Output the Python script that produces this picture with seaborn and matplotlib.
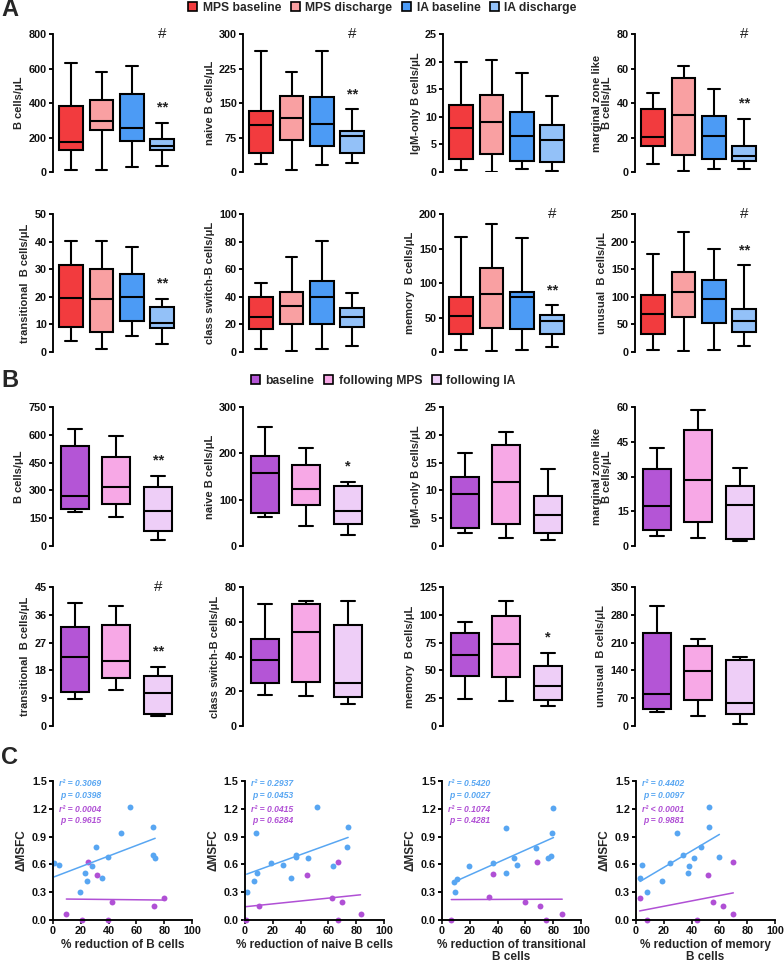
import numpy as np
import pandas as pd
import matplotlib
matplotlib.use("Agg")
import matplotlib.pyplot as plt
import seaborn as sns
from matplotlib.patches import Patch

sns.set_theme(style="ticks")
plt.rcParams["font.family"] = ["Liberation Sans", "DejaVu Sans"]
plt.rcParams["font.weight"] = "bold"
plt.rcParams["axes.labelweight"] = "bold"

# ---------------- DATA ----------------
# Panel A: groups and five-number summaries [min, q1, median, q3, max]
A_groups = ["MPS baseline", "MPS discharge", "IA baseline", "IA discharge"]
A_colors = ["#F23B3E", "#F9A0A2", "#4C9BF5", "#93C1F8"]

A_bcells = [[14, 125, 175, 385, 630], [12, 245, 298, 420, 580], [28, 182, 255, 450, 617], [37, 125, 148, 192, 283]]
A_naive = [[17, 41, 102, 132, 264], [5, 69, 118, 166, 218], [16, 57, 105, 164, 262], [20, 42, 79, 89, 136]]
A_igm = [[0.4, 2.3, 8.05, 12.2, 20.0], [0.06, 3.2, 9.0, 13.9, 20.3], [0.6, 2.05, 6.5, 10.8, 18.0], [0.25, 1.9, 5.8, 8.5, 13.8]]
A_mz = [[4.9, 15, 20.4, 36.3, 46], [0.4, 9.7, 33, 54.4, 61.3], [1.6, 7.6, 21.1, 32.2, 48.3], [1.6, 6.6, 9.5, 15, 31]]
A_trans = [[4.0, 8.9, 19.5, 31.7, 40.3], [1.2, 7.2, 19.1, 29.9, 40.1], [5.8, 11.2, 20.1, 28.3, 38.1], [2.9, 8.6, 10.5, 16.3, 19.3]]
A_switch = [[2, 17, 25.2, 39.5, 50.1], [0.7, 20, 33, 43.6, 69.2], [2, 20.3, 40, 51.6, 80.6], [4.4, 17.9, 25.7, 32.2, 42.6]]
A_memory = [[3, 26.5, 52, 79, 166], [1, 35, 84, 122, 185], [3, 34, 79, 87, 165], [7.2, 25.6, 45.4, 53.6, 67.6]]
A_unusual = [[3, 33, 68, 103, 178], [1, 63.5, 109.5, 145, 218], [3, 52.6, 96, 131, 187], [11.5, 35.7, 56, 78, 157]]

A_labels = ["B cells/\u03bcL", "naive B cells/\u03bcL", "IgM-only B cells/\u03bcL", "marginal zone like\nB cells/\u03bcL",
            "transitional  B cells/\u03bcL", "class switch-B cells/\u03bcL", "memory  B cells/\u03bcL", "unusual  B cells/\u03bcL"]
A_top = [800, 300, 25, 80, 50, 100, 200, 250]
A_step = [200, 75, 5, 20, 10, 20, 50, 50]
A_hash = [True, True, False, True, False, False, True, True]
A_star = ["**", "**", "", "**", "**", "", "**", "**"]

# Panel B
B_groups = ["baseline", "following MPS", "following IA"]
B_colors = ["#B455D6", "#F7A8E6", "#EECEF7"]

B_bcells = [[185, 198, 268, 539, 629], [158, 225, 319, 481, 596], [31, 80, 189, 319, 379]]
B_naive = [[63, 71.5, 158, 195, 256], [42.6, 88, 124, 175.5, 211.6], [24.5, 47.7, 75, 128.5, 139]]
B_igm = [[2.3, 3.25, 9.3, 12.5, 16.7], [1.4, 3.9, 11.6, 18.1, 20.5], [1.1, 2.4, 5.5, 9.0, 13.8]]
B_mz = [[4.3, 6.8, 17.4, 33.2, 42.3], [3.3, 10.5, 28.4, 50.1, 58.6], [2.2, 2.9, 17.7, 25.8, 33.6]]
B_trans = [[8.6, 10.9, 22.3, 32.2, 39.9], [11.8, 15.7, 20.9, 32.6, 38.7], [3.2, 3.8, 10.6, 16.3, 19.2]]
B_switch = [[17.6, 24.7, 37.7, 50.3, 70.4], [17.2, 25.6, 54, 70, 72.1], [12.8, 16.6, 24.9, 58.3, 71.7]]
B_memory = [[24.5, 45.2, 63.7, 83.7, 93.9], [22.7, 44.3, 73.3, 99.3, 112], [18.2, 23.3, 35.9, 53.8, 66]]
B_unusual = [[35, 42, 81, 233, 303], [26, 66, 137.5, 202.6, 218.5], [5.2, 31.4, 58, 167, 173]]

B_labels = A_labels
B_top = [750, 300, 25, 60, 45, 80, 125, 350]
B_step = [150, 100, 5, 15, 9, 20, 25, 70]
B_hash = [False, False, False, False, True, False, False, False]
B_star = ["**", "*", "", "", "**", "", "*", ""]

# Panel C: % reduction vs delta MSFC
C_blue = "#58A6F2"
C_purple = "#B050D5"
c1_bx = [0.7, 4.3, 19.3, 22.9, 24.6, 27.7, 30.6, 35.2, 39.8, 49.2, 55.4, 71.6, 72.3, 73.5]
c1_by = [0.62, 0.59, 0.30, 0.51, 0.42, 0.58, 0.79, 0.45, 0.68, 0.94, 1.22, 1.00, 0.70, 0.67]
c1_px = [9.6, 21.0, 25.5, 31.3, 39.8, 42.4, 72.5, 79.5]
c1_py = [0.065, 0.0, 0.626, 0.49, 0.0, 0.194, 0.155, 0.241]

c2_bx = [1.2, 6.7, 8.2, 8.9, 19.0, 27.2, 33.0, 36.4, 36.9, 45.0, 51.8, 63.4, 73.3, 74.2]
c2_by = [0.30, 0.42, 0.94, 0.51, 0.62, 0.59, 0.45, 0.68, 0.70, 0.67, 1.22, 0.58, 0.79, 1.00]
c2_px = [0.5, 10.1, 44.3, 62.4, 67.0, 66.7, 70.1, 83.1]
c2_py = [0.0, 0.155, 0.49, 0.241, 0.626, 0.0, 0.194, 0.065]

c3_bx = [8.9, 11.1, 9.4, 19.5, 36.9, 45.8, 46.3, 51.8, 54.0, 67.5, 75.9, 78.6, 79.0, 80.2]
c3_by = [0.41, 0.44, 0.30, 0.58, 0.62, 0.99, 0.51, 0.67, 0.59, 0.78, 0.665, 0.69, 0.935, 1.21]
c3_px = [6.7, 33.5, 36.9, 59.8, 68.2, 70.4, 74.5, 86.5]
c3_py = [0.0, 0.245, 0.496, 0.194, 0.626, 0.155, 0.0, 0.068]

c4_bx = [2.9, 4.6, 8.2, 18.9, 24.5, 29.7, 33.6, 37.2, 38.4, 41.5, 46.5, 52.3, 52.8, 60.0]
c4_by = [0.45, 0.59, 0.30, 0.42, 0.62, 0.94, 0.70, 0.51, 0.58, 0.67, 0.79, 1.22, 1.00, 0.68]
c4_px = [2.6, 7.7, 43.6, 51.6, 55.2, 62.4, 69.5, 70.0]
c4_py = [0.241, 0.0, 0.0, 0.49, 0.194, 0.155, 0.626, 0.065]

C_xlabels = ["% reduction of B cells", "% reduction of naive B cells",
             "% reduction of transitional\nB cells", "% reduction of memory\nB cells"]
C_stats_blue = [("r\u00b2 = 0.3069", "p = 0.0398"), ("r\u00b2 = 0.2937", "p = 0.0453"),
                ("r\u00b2 = 0.5420", "p = 0.0027"), ("r\u00b2 = 0.4402", "p = 0.0097")]
C_stats_purple = [("r\u00b2 = 0.0004", "p = 0.9615"), ("r\u00b2 = 0.0415", "p = 0.6284"),
                  ("r\u00b2 = 0.1074", "p = 0.4281"), ("r\u00b2 < 0.0001", "p = 0.9881")]

# ---------------- FIGURE ----------------
W, H = 784, 964
fig = plt.figure(figsize=(W / 100, H / 100), dpi=100)


def axes_px(left, top, width, height):
    return fig.add_axes([left / W, 1 - (top + height) / H, width / W, height / H])


col_left = [53, 243, 443, 635]
box_w = 126
LW = 1.5
TICK_FS = 7.8


def style_y(ax, top, step, fmt="{:g}"):
    ax.set_ylim(0, top)
    ticks = np.arange(0, top + step * 0.01, step)
    ax.set_yticks(ticks)
    ax.set_yticklabels([fmt.format(t) for t in ticks], fontsize=TICK_FS, fontweight="bold")
    ax.tick_params(axis="y", direction="out", length=3, width=LW * 0.9, pad=1.5, color="black", labelcolor="#111111")
    ax.spines["left"].set_linewidth(LW * 0.9)
    ax.spines["left"].set_color("black")


def box_panel(ax, summaries, groups, colors, width, top, step, label, xlim, hash_, star):
    df = pd.DataFrame({"group": np.repeat(groups, 5), "value": np.concatenate(summaries)})
    sns.boxplot(data=df, x="group", y="value", hue="group", order=groups, hue_order=groups,
                palette=colors, saturation=1, whis=(0, 100), width=width, linewidth=LW,
                linecolor="black", fliersize=0, legend=False, ax=ax)
    for sp in ["top", "right", "bottom"]:
        ax.spines[sp].set_visible(False)
    ax.set_xlim(*xlim)
    ax.set_xticks([])
    ax.set_xlabel("")
    style_y(ax, top, step)
    ax.set_ylabel(label, fontsize=8, fontweight="bold", labelpad=3, linespacing=1.0)
    last = len(groups) - 1
    if hash_:
        ax.text(last, top, "#", ha="center", va="center", fontsize=11, fontweight="normal", color="#222222")
    if star:
        ax.annotate(star, xy=(last, summaries[last][4]), xytext=(0, 6), textcoords="offset points",
                    ha="center", va="bottom", fontsize=10.5, fontweight="bold", color="#222222")


A_data = [A_bcells, A_naive, A_igm, A_mz, A_trans, A_switch, A_memory, A_unusual]
A_rows_top = [34, 214]
for i, summ in enumerate(A_data):
    r, c = divmod(i, 4)
    ax = axes_px(col_left[c], A_rows_top[r], box_w, 138)
    box_panel(ax, summ, A_groups, A_colors, 0.78, A_top[i], A_step[i], A_labels[i],
              (-0.6, 3.55), A_hash[i], A_star[i])

B_data = [B_bcells, B_naive, B_igm, B_mz, B_trans, B_switch, B_memory, B_unusual]
B_rows_top = [407, 587]
for i, summ in enumerate(B_data):
    r, c = divmod(i, 4)
    ax = axes_px(col_left[c], B_rows_top[r], box_w, 139)
    box_panel(ax, summ, B_groups, B_colors, 0.67, B_top[i], B_step[i], B_labels[i],
              (-0.52, 2.5), B_hash[i], B_star[i])

# Panel C
C_left = [53, 245, 442, 636]
C_sets = [(c1_bx, c1_by, c1_px, c1_py), (c2_bx, c2_by, c2_px, c2_py),
          (c3_bx, c3_by, c3_px, c3_py), (c4_bx, c4_by, c4_px, c4_py)]
for i, (bx, by, px, py) in enumerate(C_sets):
    ax = axes_px(C_left[i], 781, 139, 139)
    sns.regplot(x=np.array(bx), y=np.array(by), ax=ax, ci=None, color=C_blue,
                scatter_kws=dict(s=18, clip_on=False, linewidths=0, alpha=1),
                line_kws=dict(lw=1.1))
    sns.regplot(x=np.array(px), y=np.array(py), ax=ax, ci=None, color=C_purple,
                scatter_kws=dict(s=18, clip_on=False, linewidths=0, alpha=1),
                line_kws=dict(lw=1.1))
    ax.set_xlim(0, 100)
    ax.set_xticks(np.arange(0, 101, 20))
    ax.set_xticklabels([str(t) for t in range(0, 101, 20)], fontsize=TICK_FS, fontweight="bold")
    ax.tick_params(axis="x", direction="out", length=3, width=LW * 0.9, pad=1.5, labelcolor="#111111")
    style_y(ax, 1.5, 0.3, "{:.1f}")
    for sp in ["top", "right"]:
        ax.spines[sp].set_visible(False)
    ax.spines["bottom"].set_linewidth(LW * 0.9)
    ax.spines["bottom"].set_color("black")
    ax.set_xlabel(C_xlabels[i], fontsize=8.5, fontweight="bold", labelpad=2, linespacing=1.05)
    ax.set_ylabel("\u0394MSFC", fontsize=8.5, fontweight="bold", labelpad=3)
    rb, pb = C_stats_blue[i]
    rp, pp = C_stats_purple[i]
    for txt, yy, xx, col in [(rb, 1.475, 4.0, C_blue), (pb, 1.34, 5.3, C_blue),
                             (rp, 1.195, 4.0, C_purple), (pp, 1.07, 5.3, C_purple)]:
        ax.text(xx, yy, txt, color=col, fontsize=6.2, fontstyle="italic", fontweight="bold",
                ha="left", va="center")

# Legends
legA = [Patch(facecolor=c, edgecolor="black", linewidth=1.2, label=g) for g, c in zip(A_groups, A_colors)]
fig.legend(handles=legA, loc="center", bbox_to_anchor=(0.488, 1 - 8 / H), ncol=4, frameon=False,
           prop={"weight": "bold", "size": 8.7}, handlelength=0.75, handleheight=0.75,
           handletextpad=0.45, columnspacing=0.8, borderpad=0)
legB = [Patch(facecolor=c, edgecolor="black", linewidth=1.2, label=g) for g, c in zip(B_groups, B_colors)]
fig.legend(handles=legB, loc="center", bbox_to_anchor=(0.489, 1 - 381 / H), ncol=3, frameon=False,
           prop={"weight": "bold", "size": 8.7}, handlelength=0.75, handleheight=0.75,
           handletextpad=0.45, columnspacing=0.8, borderpad=0)

# Panel letters
for letter, ypx in [("A", 10), ("B", 381), ("C", 757)]:
    fig.text(1 / W, 1 - ypx / H, letter, fontsize=17, fontweight="bold", ha="left", va="center")

fig.savefig("out.png", dpi=100, facecolor="white")
